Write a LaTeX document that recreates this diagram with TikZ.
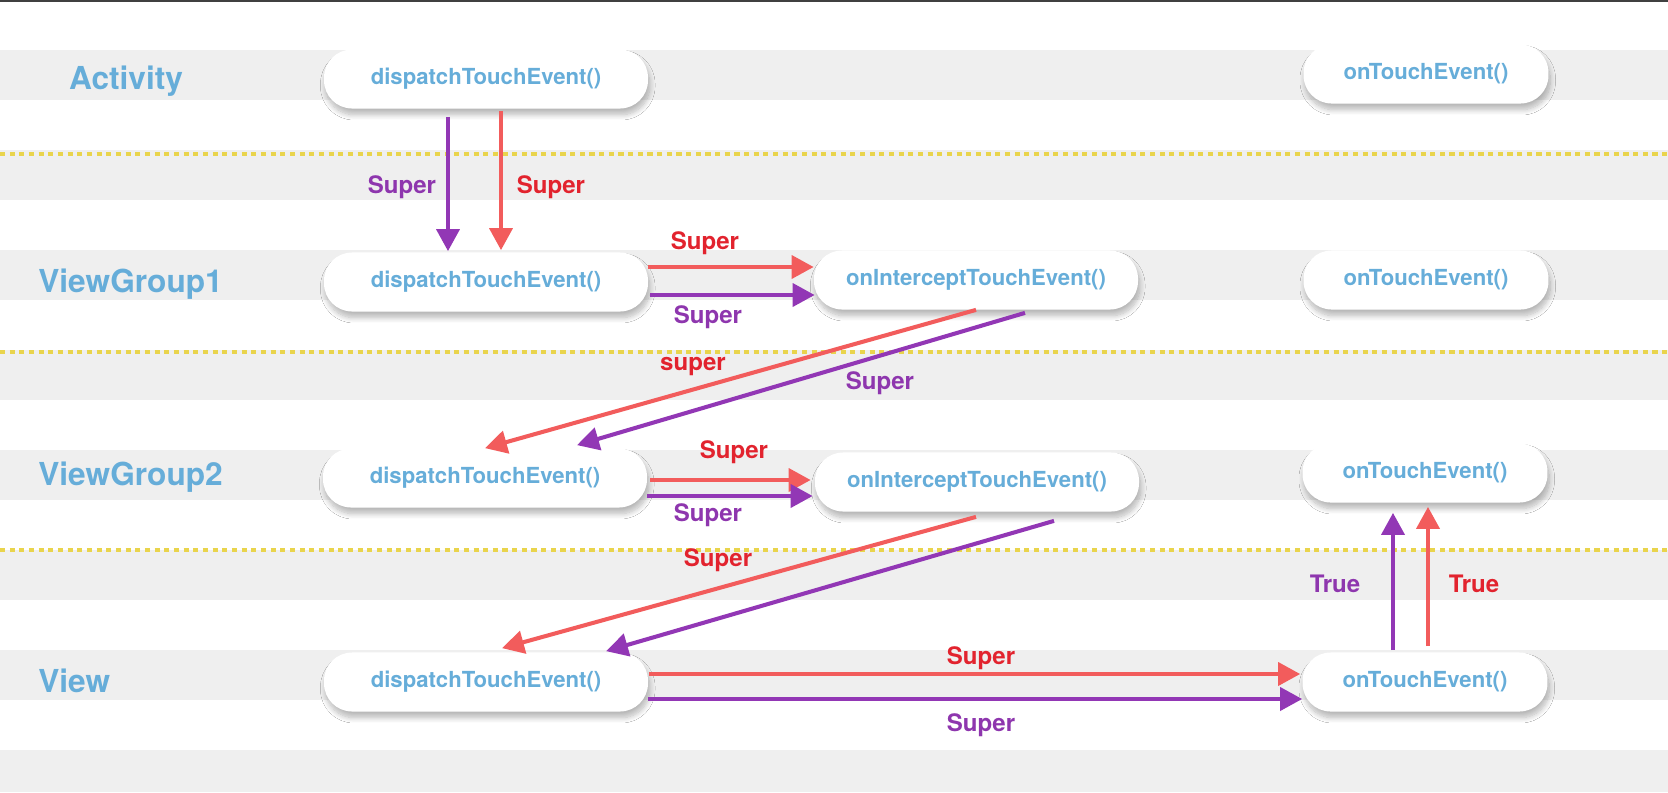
\documentclass[tikz,border=0pt]{standalone}
\usepackage{fontspec}
\setmainfont{TeX Gyre Heros}
\usetikzlibrary{arrows.meta,calc,shadows.blur}
\definecolor{bandgray}{HTML}{EFEFEF}
\definecolor{dotyellow}{HTML}{E9D44C}
\definecolor{nameblue}{HTML}{66ADD9}
\definecolor{callpurple}{HTML}{9237B5}
\definecolor{callred}{HTML}{F25C5C}
\definecolor{tagpurple}{HTML}{8E36AE}
\definecolor{tagred}{HTML}{E2232E}
\tikzset{
    method/.style={rounded corners=16pt, fill=white, minimum height=33.6pt, inner sep=0pt,
        text=nameblue, font=\bfseries\fontsize{12.6}{14}\selectfont,
        blur shadow={shadow xshift=1pt, shadow yshift=-3.5pt, shadow blur radius=3pt,
            shadow blur steps=10, shadow opacity=28}},
    longm/.style={method, minimum width=184.4pt},
    shortm/.style={method, minimum width=139.4pt},
    layer/.style={inner sep=0pt, text=nameblue, font=\bfseries\fontsize{18}{20}\selectfont},
    call/.style={line width=2.3pt, -{Triangle[length=12.5pt, width=13pt]}},
    redcall/.style={call, draw=callred},
    purplecall/.style={call, draw=callpurple},
    redtag/.style={inner sep=0pt, text=tagred, font=\bfseries\fontsize{13.7}{15}\selectfont},
    purpletag/.style={inner sep=0pt, text=tagpurple, font=\bfseries\fontsize{13.7}{15}\selectfont},
    divider/.style={draw=dotyellow, line width=2.3pt, dash pattern=on 2.9pt off 2.6pt}
}
\begin{document}
\begin{tikzpicture}[x=0.02cm, y=-0.02cm]
    \useasboundingbox (0,0) rectangle (1668,792) ;
    \fill [white] (0,0) rectangle (1668,792) ;
    \foreach \y in {50,150,...,650}
        \fill [bandgray] (0,\y) rectangle (1668,\y+50) ;
    \fill [bandgray] (0,750) rectangle (1668,792) ;
    \draw [black!75, line width=1.2pt] (0,1) -- (1668,1) ;
    \foreach \y in {154,352,550}
        \draw [divider] (0,\y) -- (1668,\y) ;

    \node [layer] (activity) at (126,81) {Activity} ;
    \node [layer, anchor=west] (groupone) at (38,284) {ViewGroup1} ;
    \node [layer, anchor=west] (grouptwo) at (38,477) {ViewGroup2} ;
    \node [layer, anchor=west] (view) at (38,681) {View} ;

    \node [longm] (actdispatch) at (486,79) {dispatchTouchEvent()} ;
    \node [shortm] (acttouch) at (1426,74) {onTouchEvent()} ;
    \node [longm] (onedispatch) at (486,282) {dispatchTouchEvent()} ;
    \node [longm] (oneintercept) at (976,280) {onInterceptTouchEvent()} ;
    \node [shortm] (onetouch) at (1426,280) {onTouchEvent()} ;
    \node [longm] (twodispatch) at (485,478) {dispatchTouchEvent()} ;
    \node [longm] (twointercept) at (977,482) {onInterceptTouchEvent()} ;
    \node [shortm] (twotouch) at (1425,473) {onTouchEvent()} ;
    \node [longm] (viewdispatch) at (486,682) {dispatchTouchEvent()} ;
    \node [shortm] (viewtouch) at (1425,682) {onTouchEvent()} ;

    \draw [purplecall] ($(actdispatch.south)+(-38,8)$) -- ($(onedispatch.north)+(-38,-1)$) ;
    \draw [redcall] ($(actdispatch.south)+(15,2)$) -- ($(onedispatch.north)+(15,-2)$) ;
    \node [purpletag] at (402,187) {Super} ;
    \node [redtag] at (551,187) {Super} ;

    \draw [redcall] ($(onedispatch.east)+(0,-15)$) -- ($(oneintercept.west)+(0,-13)$) ;
    \draw [purplecall] ($(onedispatch.east)+(2,13)$) -- ($(oneintercept.west)+(1,15)$) ;
    \node [redtag] at (705,243) {Super} ;
    \node [purpletag] at (708,317) {Super} ;

    \draw [redcall] (oneintercept.south) -- (twodispatch.north) ;
    \draw [purplecall] ($(oneintercept.south)+(49,3)$) -- ($(twodispatch.north)+(92,-3)$) ;
    \node [redtag] at (693,367) {super} ;
    \node [purpletag] at (880,383) {Super} ;

    \draw [redcall] ($(twodispatch.east)+(3,2)$) -- ($(twointercept.west)+(-4,-2)$) ;
    \draw [purplecall] ($(twodispatch.east)+(0,18)$) -- ($(twointercept.west)+(-2,14)$) ;
    \node [redtag] at (734,452) {Super} ;
    \node [purpletag] at (708,515) {Super} ;

    \draw [redcall] ($(twointercept.south)+(-1,5)$) -- ($(viewdispatch.north)+(16,-4)$) ;
    \draw [purplecall] ($(twointercept.south)+(77,9)$) -- ($(viewdispatch.north)+(120,-1)$) ;
    \node [redtag] at (718,560) {Super} ;

    \draw [redcall] ($(viewdispatch.east)+(1,-8)$) -- ($(viewtouch.west)+(-2,-8)$) ;
    \draw [purplecall] ($(viewdispatch.east)+(0,17)$) -- ($(viewtouch.west)+(0,17)$) ;
    \node [redtag] at (981,658) {Super} ;
    \node [purpletag] at (981,725) {Super} ;

    \draw [purplecall] ($(viewtouch.north)+(-32,-2)$) -- ($(twotouch.south)+(-32,10)$) ;
    \draw [redcall] ($(viewtouch.north)+(3,-6)$) -- ($(twotouch.south)+(3,4)$) ;
    \node [purpletag] at (1335,584) {True} ;
    \node [redtag] at (1474,584) {True} ;
\end{tikzpicture}
\end{document}
